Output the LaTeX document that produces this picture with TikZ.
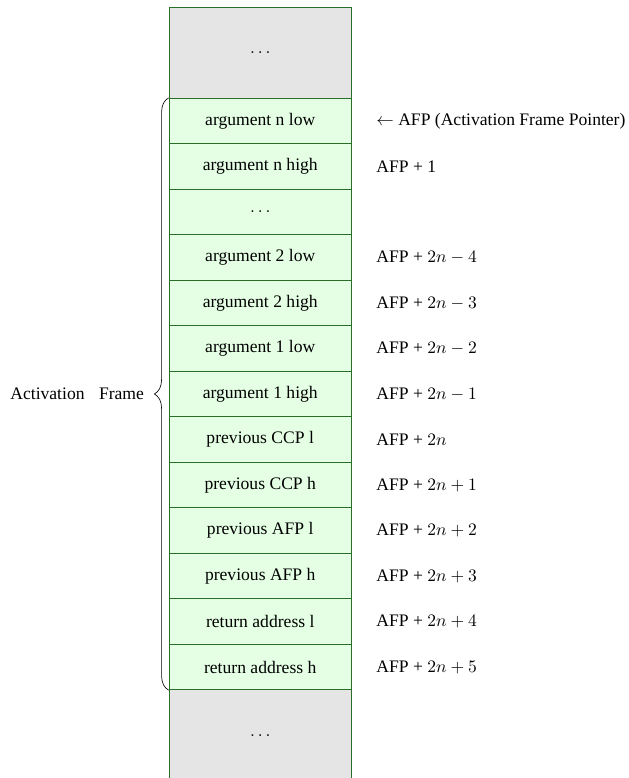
\documentclass[tikz,border=0pt]{standalone}
\usepackage{fontspec}
\setmainfont{Liberation Serif}
\usepackage{tikz}
\usetikzlibrary{positioning,decorations.pathreplacing}
\definecolor{cellline}{RGB}{40,112,40}
\tikzstyle{cell} = [rectangle, draw=cellline, fill=green!10, 
    text centered, minimum width=4cm, minimum height=1cm, line width=0.6pt]
\tikzstyle{outside} = [cell, fill=gray!20, minimum height=2cm]
\tikzstyle{addr} = [inner sep=0pt]
\tikzset{
  framebrace/.style ={draw, thin, decorate, decoration={brace, amplitude=9pt}}
}

\begin{document}
\begin{tikzpicture}[node distance = 1cm, auto, font=\fontsize{11}{13}\selectfont]
   \useasboundingbox (0,0) rectangle (13.82,-17.1);
   \node [outside] (top) at (5.72,-1.16) {$\dots$};
   \node [cell,below of=top,node distance=1.5cm] (arg_n_low) {argument n low};
   \node [cell,below of=arg_n_low] (arg_n_high) {argument n high};
   \node [cell,below of=arg_n_high] (arg_dots) {$\dots$};
   \node [cell,below of=arg_dots] (arg_2_low) {argument 2 low};
   \node [cell,below of=arg_2_low] (arg_2_high) {argument 2 high};
   \node [cell,below of=arg_2_high] (arg_1_low) {argument 1 low};
   \node [cell,below of=arg_1_low] (arg_1_high) {argument 1 high};
   \node [cell,below of=arg_1_high] (ccp_l) {previous CCP l};
   \node [cell,below of=ccp_l] (ccp_h) {previous CCP h};
   \node [cell,below of=ccp_h] (afp_l) {previous AFP l};
   \node [cell,below of=afp_l] (afp_h) {previous AFP h};
   \node [cell,below of=afp_h] (ret_l) {return address l};
   \node [cell,below of=ret_l] (ret_h) {return address h};
   \node [outside,below of=ret_h,node distance=1.5cm] (bottom) {$\dots$};
   % addresses
   \node [addr,right=0.535cm of arg_n_low] (addr_0) {$\leftarrow$ AFP (Activation Frame Pointer)};
   \node [addr,right=0.535cm of arg_n_high] (addr_1) {AFP + 1};
   \node [addr,right=0.535cm of arg_2_low] (addr_2n_4) {AFP + $2n-4$};
   \node [addr,right=0.535cm of arg_2_high] (addr_2n_3) {AFP + $2n-3$};
   \node [addr,right=0.535cm of arg_1_low] (addr_2n_2) {AFP + $2n-2$};
   \node [addr,right=0.535cm of arg_1_high] (addr_2n_1) {AFP + $2n-1$};
   \node [addr,right=0.535cm of ccp_l] (addr_2n) {AFP + $2n$};
   \node [addr,right=0.535cm of ccp_h] (addr_2n1) {AFP + $2n+1$};
   \node [addr,right=0.535cm of afp_l] (addr_2n2) {AFP + $2n+2$};
   \node [addr,right=0.535cm of afp_h] (addr_2n3) {AFP + $2n+3$};
   \node [addr,right=0.535cm of ret_l] (addr_2n4) {AFP + $2n+4$};
   \node [addr,right=0.535cm of ret_h] (addr_2n5) {AFP + $2n+5$};
   % frame
   \path [framebrace] (ret_h.south west) -- node (frame) [left=12pt] {Activation\hspace{9pt}Frame} (arg_n_low.north west);
\end{tikzpicture}
\end{document}
